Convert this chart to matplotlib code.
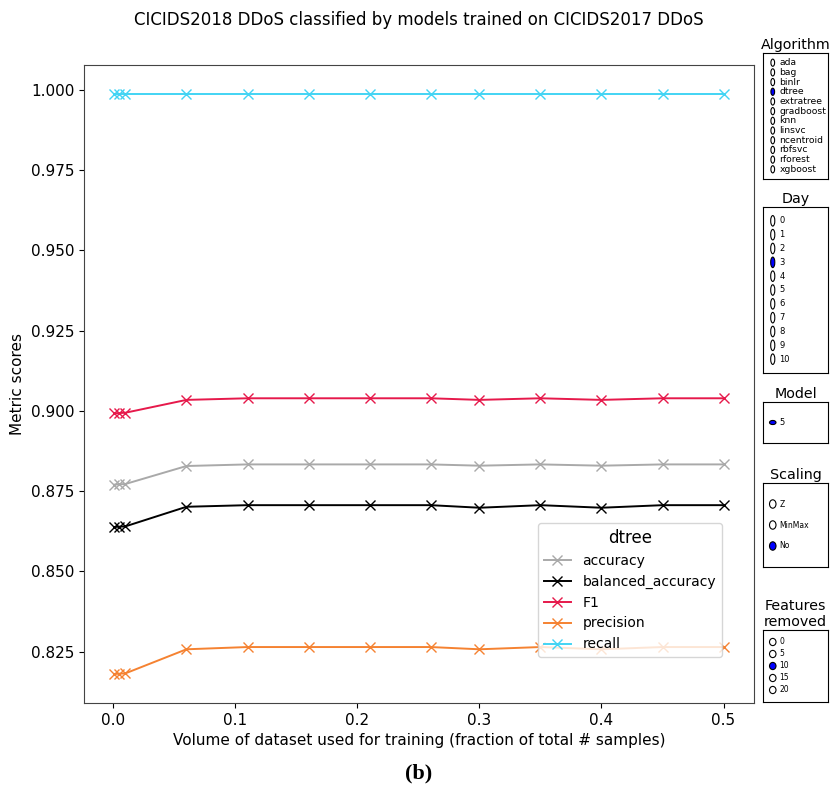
import matplotlib.pyplot as plt
from matplotlib.patches import Circle

# training fractions
fractions = [0.001, 0.005, 0.01, 0.06, 0.11, 0.16, 0.21, 0.26, 0.30, 0.35, 0.40, 0.45, 0.50]

accuracy = [0.8770, 0.8771, 0.8772, 0.8828, 0.8833, 0.8833, 0.8833, 0.8833, 0.8829, 0.8833, 0.8829, 0.8833, 0.8833]
balanced_accuracy = [0.8638, 0.8639, 0.8640, 0.8701, 0.8706, 0.8706, 0.8706, 0.8706, 0.8698, 0.8706, 0.8698, 0.8706, 0.8706]
f1 = [0.8992, 0.8993, 0.8994, 0.9034, 0.9039, 0.9039, 0.9039, 0.9039, 0.9034, 0.9039, 0.9034, 0.9039, 0.9039]
precision = [0.8180, 0.8181, 0.8182, 0.8257, 0.8264, 0.8264, 0.8264, 0.8264, 0.8257, 0.8264, 0.8257, 0.8264, 0.8264]
recall = [0.9987, 0.9987, 0.9987, 0.9987, 0.9987, 0.9987, 0.9987, 0.9987, 0.9987, 0.9987, 0.9987, 0.9987, 0.9987]

metric_names = ['accuracy', 'balanced_accuracy', 'F1', 'precision', 'recall']
metric_colors = ['#a9a9a9', '#000000', '#e6194b', '#f58231', '#42d4f4']

# widget panels
algorithms = ['ada', 'bag', 'binlr', 'dtree', 'extratree', 'gradboost', 'knn',
              'linsvc', 'ncentroid', 'rbfsvc', 'rforest', 'xgboost']
days = ['0', '1', '2', '3', '4', '5', '6', '7', '8', '9', '10']
models = ['5']
scalings = ['Z', 'MinMax', 'No']
features_removed = ['0', '5', '10', '15', '20']

W, H = 839, 790
fig = plt.figure(figsize=(W / 100, H / 100), dpi=100)


def px_axes(x0, y0, x1, y1):
    # pixel box (top-left origin) -> figure axes
    return fig.add_axes([x0 / W, 1 - y1 / H, (x1 - x0) / W, (y1 - y0) / H])


ax = px_axes(84, 65, 754, 703)
series = [accuracy, balanced_accuracy, f1, precision, recall]
for name, vals, col in zip(metric_names, series, metric_colors):
    ax.plot(fractions, vals, marker='x', markersize=7, lw=1.4, color=col,
            markeredgewidth=1.0, label=name)

ax.tick_params(labelsize=11)
ax.set_xticks([0.0, 0.1, 0.2, 0.3, 0.4, 0.5])
ax.set_yticks([0.825, 0.85, 0.875, 0.9, 0.925, 0.95, 0.975, 1.0])
ax.set_xlabel('Volume of dataset used for training (fraction of total # samples)', fontsize=11)
ax.set_ylabel('Metric scores', fontsize=11)
for sp in ax.spines.values():
    sp.set_color('#444444')

ax.legend(title='dtree', fontsize=10, title_fontsize=12, loc='lower left',
          bbox_to_anchor=((538 - 84) / 670, (703 - 657) / 638), borderaxespad=0)

fig.text(419 / W, 1 - 20 / H, 'CICIDS2018 DDoS classified by models trained on CICIDS2017 DDoS',
         ha='center', va='center', fontsize=12)
fig.text(419 / W, 1 - 773 / H, '(b)', ha='center', va='center', fontsize=16,
         fontweight='bold', family='Liberation Serif')


def radio_panel(box, title, labels, active, fs):
    rax = px_axes(*box)
    rax.set_xticks([])
    rax.set_yticks([])
    rax.set_xlim(0, 1)
    rax.set_ylim(0, 1)
    rax.set_title(title, fontsize=10.3, pad=3)
    n = len(labels)
    dy = 1.0 / (n + 1)
    r = min(dy / 2 - 0.01, 0.05)
    for k, lab in enumerate(labels):
        y = 1 - (k + 1) * dy
        fc = 'blue' if k == active else 'white'
        rax.add_patch(Circle((0.15, y), r, facecolor=fc, edgecolor='black', lw=0.8,
                             transform=rax.transAxes))
        rax.text(0.25, y, lab, fontsize=fs, va='center', ha='left', transform=rax.transAxes)
    return rax


radio_panel((763, 53, 828, 179), 'Algorithm', algorithms, 3, 6.7)
radio_panel((763, 207, 828, 373), 'Day', days, 3, 6)
radio_panel((763, 402, 828, 443), 'Model', models, 0, 6)
radio_panel((763, 483, 828, 567), 'Scaling', scalings, 2, 5.5)
radio_panel((763, 630, 828, 702), 'Features\nremoved', features_removed, 2, 5.5)

fig.savefig('out.png', dpi=100)
